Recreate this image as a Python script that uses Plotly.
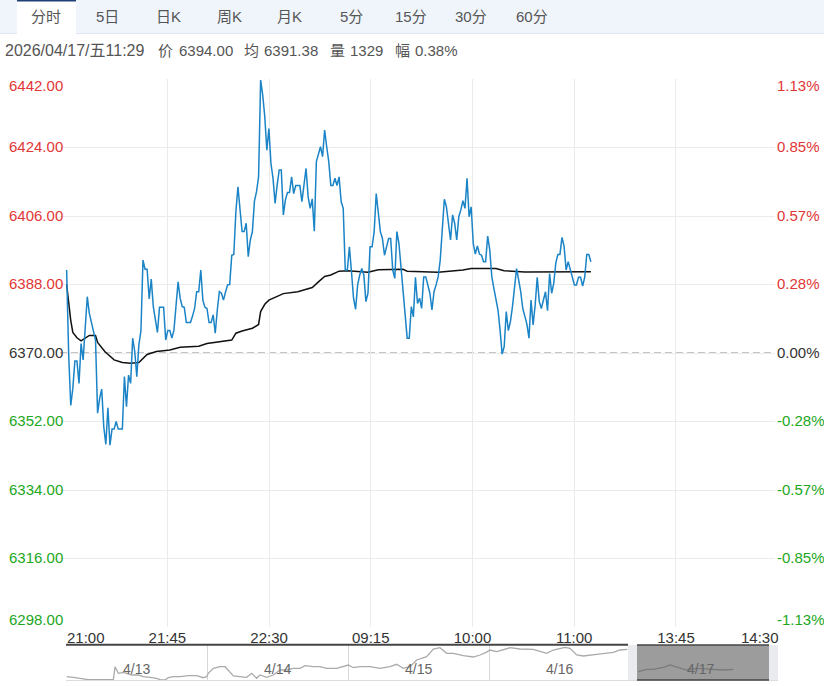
import numpy as np
import plotly.graph_objects as go

# Intraday price, one value per minute
price = [
    6391.8, 6369.5, 6356.2, 6360.7, 6367.9, 6367.9, 6362, 6372.5, 6368.2, 6377.4,
    6384.8, 6380.4, 6378.2, 6376, 6373.4, 6354.2, 6358.1, 6360.5, 6350.6, 6346,
    6355.6, 6345.8, 6350, 6350, 6352, 6350, 6350, 6350, 6363.8, 6355.9,
    6364.2, 6362, 6373.9, 6370.4, 6363.8, 6372.1, 6375.8, 6394.4, 6392, 6392,
    6384.2, 6389.4, 6382.2, 6378.2, 6375.4, 6382, 6382, 6382, 6373.4, 6375.9,
    6375.9, 6373.9, 6376, 6382.2, 6388.7, 6384.4, 6382.2, 6382, 6378, 6378,
    6378, 6379.7, 6381.7, 6386.1, 6386.1, 6391.8, 6383.9, 6382, 6381.7, 6378,
    6378, 6380, 6375.2, 6381.3, 6386.1, 6385.7, 6383.9, 6386.1, 6387.9, 6388,
    6395.7, 6395.9, 6407.1, 6413.7, 6408, 6401.9, 6401.9, 6404.1, 6395.3, 6399.7,
    6401.9, 6409.9, 6412.4, 6416.3, 6441.7, 6437.8, 6432.1, 6423.3, 6429, 6419.8,
    6415.9, 6409.3, 6414.1, 6418.1, 6418.1, 6406.3, 6410.2, 6412.2, 6412.2, 6416.3,
    6411.9, 6414, 6414, 6414, 6409.8, 6414.6, 6418.5, 6411.1, 6408, 6410.5,
    6402, 6420.3, 6422.5, 6424.2, 6421.6, 6428.6, 6424.2, 6420.3, 6414, 6414,
    6415.9, 6414, 6416.3, 6409.8, 6408, 6391.8, 6391.8, 6397.9, 6391.4, 6384.4,
    6381.5, 6387.9, 6390.5, 6392.2, 6390.5, 6383.5, 6385.7, 6397.9, 6397.9, 6401.9,
    6411.9, 6406.3, 6401.9, 6400.1, 6395.7, 6397.9, 6400.1, 6400.1, 6391.8, 6389.6,
    6401.9, 6398.8, 6392.2, 6385.7, 6379.5, 6373.9, 6373.9, 6382.2, 6379.5, 6389.9,
    6383, 6384.4, 6381.7, 6390, 6390, 6387.9, 6385.7, 6381.3, 6386.1, 6387.9,
    6390, 6394.4, 6403.2, 6410.4, 6408.4, 6403.2, 6399.7, 6406.3, 6404.1, 6399.7,
    6405.8, 6407.6, 6410, 6408, 6415.9, 6405.8, 6408.4, 6398.8, 6396, 6398.1,
    6396, 6395.7, 6394, 6394, 6400.7, 6397.1, 6390, 6387, 6383.9, 6381.3,
    6376, 6369.7, 6371.7, 6380.9, 6375.9, 6378.2, 6382.2, 6387.9, 6392.2, 6389.2,
    6386.1, 6381.7, 6379.5, 6377.6, 6373.9, 6383.9, 6377.4, 6382.6, 6389.9, 6383.5,
    6381.7, 6383.9, 6386.1, 6381.1, 6390.9, 6385.7, 6388.3, 6393.6, 6395.9, 6395.9,
    6400.4, 6398.1, 6391.8, 6394, 6391.8, 6389.6, 6387.9, 6387.9, 6389.9, 6389.9,
    6387.6, 6389.9, 6395.9, 6395.9, 6394,
]

# Average price line
avg_minute = [0, 1, 2, 3, 5, 7, 9, 11, 14, 15, 18.5, 23, 27, 31, 35, 37, 39, 43.5, 50, 55,
              64, 68, 75, 80, 82, 85, 90, 93, 94, 96, 98, 105, 112, 119, 122, 125, 128, 132,
              136, 142, 146, 151, 163, 165, 175, 180, 192, 196, 208, 212, 222, 254]
avg_price = [6388, 6382.6, 6378.6, 6375.4, 6374, 6373.2, 6373.9, 6374.6, 6374.6, 6372.8,
             6370.4, 6368.2, 6367.5, 6367.3, 6367.5, 6368.6, 6369.6, 6370.4, 6370.8, 6371.5,
             6371.8, 6372.5, 6373, 6373.4, 6375.2, 6375.8, 6376.5, 6377.5, 6380.9, 6382.8,
             6383.9, 6385.6, 6386.1, 6387.2, 6388.7, 6390.1, 6390.5, 6391.5, 6391.6, 6391.4,
             6391.2, 6391.9, 6392, 6391.5, 6391.3, 6391.2, 6391.8, 6392.2, 6392.2, 6391.6,
             6391.3, 6391.38]

# Axis labels
price_ticks = [6442, 6424, 6406, 6388, 6370, 6352, 6334, 6316, 6298]
price_labels = ['6442.00', '6424.00', '6406.00', '6388.00', '6370.00', '6352.00', '6334.00', '6316.00', '6298.00']
pct_labels = ['1.13%', '0.85%', '0.57%', '0.28%', '0.00%', '-0.28%', '-0.57%', '-0.85%', '-1.13%']
label_colors = ['#e23636'] * 4 + ['#333333'] + ['#22a722'] * 4
time_labels = ['21:00', '21:45', '22:30', '09:15', '10:00', '11:00', '13:45', '14:30']
tabs = ['分时', '5日', '日K', '周K', '月K', '5分', '15分', '30分', '60分']
info_date = '2026/04/17/五11:29'
info_parts = ['价', '6394.00', '均', '6391.38', '量', '1329', '幅', '0.38%']

# Overview strip, x in trading days, level is relative height
mini_day = [0.005, 0.028, 0.064, 0.099, 0.135, 0.158, 0.336, 0.348, 0.371, 0.407, 0.430, 0.466, 0.513,
            0.548, 0.596, 0.643, 0.667, 0.702, 0.726, 0.761, 0.809, 0.868, 0.927, 0.974, 0.998, 1.009,
            1.045, 1.092, 1.128, 1.151, 1.187, 1.234, 1.281, 1.317, 1.352, 1.376, 1.423, 1.470, 1.518,
            1.565, 1.612, 1.660, 1.695, 1.754, 1.801, 1.849, 1.920, 2.002, 2.038, 2.085, 2.156, 2.227,
            2.298, 2.345, 2.392, 2.440, 2.487, 2.558, 2.605, 2.652, 2.700, 2.747, 2.818, 2.889, 2.936,
            2.979, 3.007, 3.055, 3.149, 3.220, 3.314, 3.409, 3.456, 3.539, 3.574, 3.622, 3.669, 3.764,
            3.835, 3.882, 3.929, 3.981]
mini_level = [3.3, 2.7, 2.3, 1.7, 0.7, 0.3, 0.3, 13.3, 6.7, 7.7, 6.7, 5, 5,
              3.3, 2.7, 1.7, 0.3, 0, 2.3, 3.3, 3.3, 4.3, 4.3, 2.3, 3.3, 6.7,
              11.7, 13.3, 13.3, 10, 4, 3.3, 2.7, 6.7, 1.7, 5, 2.7, 5, 10,
              10, 11.7, 11.7, 14.3, 13.3, 13.3, 11.7, 11.7, 15, 12.3, 13.3, 13.3, 11.7,
              13.3, 15.7, 11.7, 13.3, 20, 23.3, 31, 32.3, 26.7, 26.7, 24.3, 23, 25,
              27.7, 30, 28.3, 32.3, 31, 30.7, 26.7, 30, 32.7, 31.7, 25, 24, 25.7,
              26.7, 27.7, 30, 30.7]
today_day = [4.059, 4.118, 4.165, 4.236, 4.284, 4.355, 4.402, 4.473, 4.567, 4.662, 4.733]
today_level = [8.3, 10.7, 10.7, 12.7, 15, 11.7, 10, 11.7, 10.7, 10, 10.7]
day_labels = ['4/13', '4/14', '4/15', '4/16', '4/17']

W, H = 824, 686
FONT = 'Liberation Sans, Noto Sans CJK SC, sans-serif'
base_price = 6370
session_len = 345


def px(x):
    return x / W


def py(y):
    return 1 - y / H


fig = go.Figure()
minutes = np.arange(len(price)) + 0.5
fig.add_trace(go.Scatter(x=np.array(avg_minute) + 0.5, y=avg_price, mode='lines',
                         line=dict(color='#111111', width=1.5), hoverinfo='skip'))
fig.add_trace(go.Scatter(x=minutes, y=price, mode='lines', line=dict(color='#1b84c6', width=1.5), hoverinfo='skip'))
fig.add_trace(go.Scatter(x=mini_day, y=mini_level, mode='lines', xaxis='x2', yaxis='y2',
                         line=dict(color='#aaaaaa', width=1.3), hoverinfo='skip'))
fig.add_trace(go.Scatter(x=today_day, y=today_level, mode='lines', xaxis='x2', yaxis='y2',
                         line=dict(color='#aaaaaa', width=1.3), hoverinfo='skip'))

shapes = []
annotations = []


def rect(x0, y0, x1, y1, color, layer='above'):
    shapes.append(dict(type='rect', xref='paper', yref='paper', x0=px(x0), x1=px(x1), y0=py(y0), y1=py(y1),
                       fillcolor=color, line_width=0, layer=layer))


def hline(x0, x1, y, color, width):
    shapes.append(dict(type='line', xref='paper', yref='paper', x0=px(x0), x1=px(x1), y0=py(y), y1=py(y),
                       line=dict(color=color, width=width)))


def text(x, y, s, size=15, color='#555555', anchor='center', **kw):
    annotations.append(dict(text=s, x=x, y=y, xref=kw.pop('xref', 'paper'), yref=kw.pop('yref', 'paper'),
                            xanchor=anchor, yanchor='middle', showarrow=False,
                            font=dict(family=FONT, size=size, color=color), **kw))


# Tab bar
rect(0, 0, 824, 33, '#f0f5fc', 'below')
rect(17, 0, 76, 34, '#ffffff', 'below')
hline(17, 76, 0.8, '#1f3f78', 1.6)
hline(0, 17, 33.5, '#dfe6f0', 1)
hline(76, 824, 33.5, '#dfe6f0', 1)
tab_centers = [46, 107, 168, 229, 289, 351, 411, 471, 532]
for c, t in zip(tab_centers, tabs):
    text(px(c), py(16), t)

# Readout line
text(px(3), py(50), info_date, size=16, anchor='left')
part_lefts = [156, 177, 242, 262, 328, 348, 393, 413]
for x, t in zip(part_lefts, info_parts):
    text(px(x), py(50), t, anchor='left')

# Price and percent labels, first and last sit inside the plot band
for i, (v, l, p, c) in enumerate(zip(price_ticks, price_labels, pct_labels, label_colors)):
    shift = -6 if i == 0 else (8 if i == len(price_ticks) - 1 else 1)
    text(px(7), v, l, color=c, anchor='left', yref='y', yshift=shift)
    text(px(774.5), v, p, color=c, anchor='left', yref='y', yshift=shift)

# End time labels are aligned to the edges
text(px(65), py(637), time_labels[0], color='#333333', anchor='left')
text(px(781), py(637), time_labels[-1], color='#333333', anchor='right')

# Overview strip decoration
hline(66, 628, 644.8, '#444444', 2)
hline(66, 778, 680.5, '#dddddd', 1)
rect(628, 645, 637, 680, '#e9ebef')
rect(769, 645, 778, 680, '#e9ebef')
rect(637, 645, 769, 680, 'rgba(90,90,90,0.6)')
hline(637, 769, 645, '#444444', 1.5)
hline(637, 769, 680, '#444444', 1.5)
for i, d in enumerate(day_labels):
    text(i + 0.5, 17, d, size=14, color='#666666', xref='x2', yref='y2', yshift=-6)

# Base price dashed line
shapes.append(dict(type='line', xref='paper', yref='y', x0=px(60), x1=px(775), y0=base_price, y1=base_price,
                   line=dict(color='#8a8a8a', width=1, dash='7px,4px'), layer='below'))

grid_minutes = [session_len / 7 * k for k in range(1, 7)]
fig.update_layout(
    width=W, height=H, margin=dict(l=0, r=0, t=0, b=0),
    paper_bgcolor='#ffffff', plot_bgcolor='#ffffff', showlegend=False,
    shapes=shapes, annotations=annotations,
    xaxis=dict(domain=[px(60), px(775)], range=[-2.71, 343.7], tickmode='array', tickvals=grid_minutes,
               ticktext=time_labels[1:-1], showgrid=True, gridcolor='#ebebeb', zeroline=False, showline=False,
               ticks='', tickfont=dict(family=FONT, size=15, color='#333333'), anchor='y'),
    yaxis=dict(domain=[py(627), py(79)], range=[6298, 6442], tickmode='array', tickvals=price_ticks,
               showticklabels=False, showgrid=True, gridcolor='#ebebeb', zeroline=False, showline=False,
               ticks='', anchor='x'),
    xaxis2=dict(domain=[px(66), px(771)], range=[0, 5], tickmode='array', tickvals=[1, 2, 3, 4],
                showticklabels=False, showgrid=True, gridcolor='#d8d8d8', zeroline=False, ticks='', anchor='y2'),
    yaxis2=dict(domain=[py(680), py(645)], range=[0, 35], showticklabels=False, showgrid=False,
                zeroline=False, ticks='', anchor='x2'),
)

fig.write_html('out.html', config={'displayModeBar': False},
               post_script="document.body.style.margin='0';")
